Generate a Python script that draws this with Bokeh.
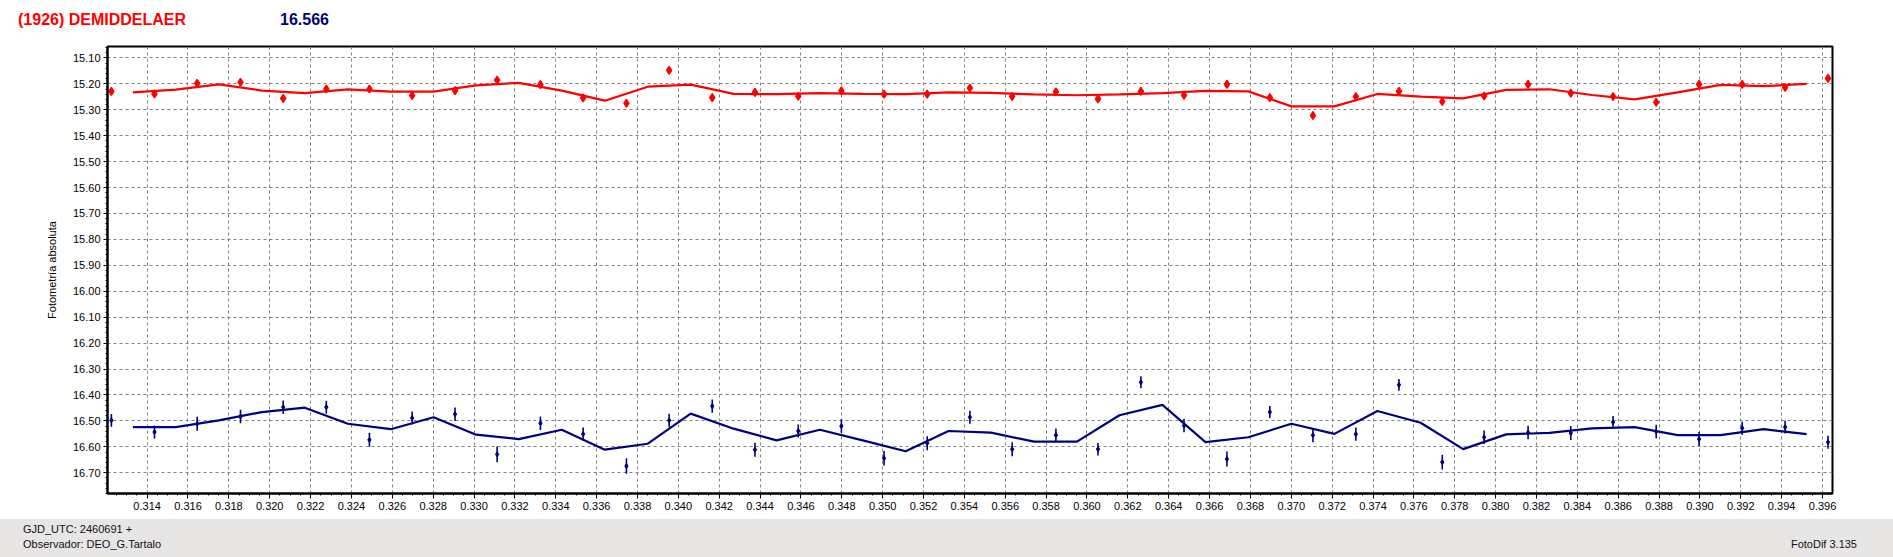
from bokeh.plotting import figure
from bokeh.models import ColumnDataSource, Range1d, FixedTicker, NumeralTickFormatter, Div
from bokeh.layouts import column
from bokeh.embed import file_html
from bokeh.resources import INLINE
import numpy as np

# ---------------- data ----------------
title_name = "(1926) DEMIDDELAER"
title_mag = "16.566"
y_axis_title = "Fotometría absoluta"
footer_gjd = "GJD_UTC: 2460691 +"
footer_obs = "Observador: DEO_G.Tartalo"
footer_soft = "FotoDif 3.135"

times = [0.31225, 0.31436, 0.31645, 0.31857, 0.32066, 0.32277, 0.32488, 0.32697,
         0.32907, 0.33113, 0.33325, 0.33534, 0.33746, 0.33955, 0.34166, 0.34375,
         0.34587, 0.34798, 0.35007, 0.35218, 0.35427, 0.35634, 0.35848, 0.36054,
         0.36264, 0.36475, 0.36685, 0.36895, 0.37106, 0.37316, 0.37527, 0.37739,
         0.37944, 0.38159, 0.38368, 0.38575, 0.38786, 0.38996, 0.39207, 0.39417,
         0.39627]

red_mag = [15.229, 15.239, 15.198, 15.194, 15.256, 15.220, 15.220, 15.245, 15.226,
           15.186, 15.203, 15.254, 15.275, 15.148, 15.253, 15.233, 15.248, 15.227,
           15.240, 15.240, 15.216, 15.249, 15.231, 15.258, 15.229, 15.244, 15.202,
           15.253, 15.322, 15.249, 15.229, 15.268, 15.247, 15.202, 15.236, 15.249,
           15.271, 15.202, 15.202, 15.214, 15.179]
red_err = [0.015, 0.015, 0.014, 0.014, 0.015, 0.015, 0.014, 0.015, 0.014, 0.014,
           0.015, 0.015, 0.015, 0.014, 0.015, 0.015, 0.015, 0.014, 0.015, 0.015,
           0.014, 0.015, 0.014, 0.015, 0.014, 0.015, 0.014, 0.015, 0.015, 0.014,
           0.014, 0.015, 0.015, 0.014, 0.015, 0.015, 0.015, 0.014, 0.014, 0.014,
           0.015]
red_trend = [15.233, 15.222, 15.202, 15.226, 15.236, 15.221, 15.230, 15.230, 15.206,
             15.196, 15.226, 15.265, 15.211, 15.203, 15.239, 15.240, 15.236, 15.239,
             15.240, 15.233, 15.235, 15.241, 15.244, 15.241, 15.236, 15.227, 15.229,
             15.287, 15.287, 15.239, 15.249, 15.256, 15.223, 15.221, 15.243, 15.260,
             15.233, 15.204, 15.209, 15.200]

blue_mag = [16.498, 16.543, 16.511, 16.483, 16.447, 16.447, 16.573, 16.489, 16.474,
            16.629, 16.509, 16.551, 16.674, 16.498, 16.443, 16.611, 16.539, 16.520,
            16.644, 16.586, 16.486, 16.609, 16.555, 16.609, 16.351, 16.518, 16.647,
            16.466, 16.555, 16.551, 16.361, 16.659, 16.563, 16.545, 16.547, 16.505,
            16.541, 16.570, 16.528, 16.524, 16.582]
blue_err = [0.025, 0.025, 0.027, 0.026, 0.026, 0.025, 0.027, 0.025, 0.026, 0.030,
            0.026, 0.026, 0.030, 0.026, 0.026, 0.027, 0.025, 0.026, 0.028, 0.027,
            0.025, 0.027, 0.026, 0.024, 0.023, 0.026, 0.029, 0.023, 0.027, 0.026,
            0.023, 0.028, 0.026, 0.026, 0.027, 0.024, 0.026, 0.027, 0.025, 0.025,
            0.025]
blue_trend = [16.524, 16.524, 16.498, 16.466, 16.449, 16.511, 16.532, 16.486, 16.553,
              16.570, 16.534, 16.611, 16.588, 16.472, 16.530, 16.575, 16.534, 16.575,
              16.617, 16.539, 16.545, 16.580, 16.580, 16.478, 16.438, 16.582, 16.563,
              16.511, 16.550, 16.462, 16.507, 16.609, 16.552, 16.546, 16.529, 16.524,
              16.555, 16.555, 16.532, 16.551]

x_ticks = [0.314, 0.316, 0.318, 0.320, 0.322, 0.324, 0.326, 0.328, 0.330, 0.332,
           0.334, 0.336, 0.338, 0.340, 0.342, 0.344, 0.346, 0.348, 0.350, 0.352,
           0.354, 0.356, 0.358, 0.360, 0.362, 0.364, 0.366, 0.368, 0.370, 0.372,
           0.374, 0.376, 0.378, 0.380, 0.382, 0.384, 0.386, 0.388, 0.390, 0.392,
           0.394, 0.396]
y_ticks = [15.10, 15.20, 15.30, 15.40, 15.50, 15.60, 15.70, 15.80, 15.90, 16.00,
           16.10, 16.20, 16.30, 16.40, 16.50, 16.60, 16.70]

# ---------------- derived ----------------
t = np.array(times)
t_mid = (t[:-1] + t[1:]) / 2.0

red_src = ColumnDataSource(dict(
    x=t, y=np.array(red_mag),
    lo=np.array(red_mag) - np.array(red_err),
    hi=np.array(red_mag) + np.array(red_err)))
blue_src = ColumnDataSource(dict(
    x=t, y=np.array(blue_mag),
    lo=np.array(blue_mag) - np.array(blue_err),
    hi=np.array(blue_mag) + np.array(blue_err)))

RED = "#ff0000"
NAVY = "#000080"
FONT = "Liberation Sans"
W = 1893
BAND = "#e8e6e4"

# ---------------- top strip (titles) ----------------
span = ("position:absolute;white-space:nowrap;font-family:'Liberation Sans',Arial,sans-serif;"
        "margin:0;padding:0;")
top_html = (
    f'<div style="position:relative;width:{W}px;height:44px;background:#ffffff;'
    f'overflow:hidden;margin:0;padding:0;">'
    f'<span style="{span}left:18px;top:11px;font-size:16px;line-height:18px;'
    f'font-weight:bold;color:{RED};">{title_name}</span>'
    f'<span style="{span}left:280px;top:11px;font-size:16px;line-height:18px;'
    f'font-weight:bold;color:{NAVY};">{title_mag}</span>'
    '</div>')
top = Div(text=top_html, width=W, height=44, margin=0)

# ---------------- main plot ----------------
p = figure(width=W, height=475, output_backend="svg", toolbar_location=None,
           x_range=Range1d(0.31206, 0.39649), y_range=Range1d(16.78, 15.056),
           min_border_left=107, min_border_right=61, min_border_top=2,
           min_border_bottom=26)
p.background_fill_color = "white"
p.border_fill_color = "white"
p.outline_line_color = "black"
p.outline_line_width = 2

x_minor = list(np.round(np.arange(0.3120, 0.39651, 0.0005), 4))
y_minor = list(np.round(np.arange(15.06, 16.781, 0.02), 2))
p.xaxis.ticker = FixedTicker(ticks=x_ticks, minor_ticks=x_minor)
p.yaxis.ticker = FixedTicker(ticks=y_ticks, minor_ticks=y_minor)
p.xaxis.formatter = NumeralTickFormatter(format="0.000")
p.yaxis.formatter = NumeralTickFormatter(format="0.00")

for ax in (p.xaxis[0], p.yaxis[0]):
    ax.axis_line_color = "black"
    ax.axis_line_width = 2
    ax.major_tick_line_color = "black"
    ax.minor_tick_line_color = "black"
    ax.major_tick_in = 0
    ax.minor_tick_in = 0
    ax.major_label_text_font = FONT
    ax.major_label_text_font_size = "11px"
    ax.major_label_text_color = "black"

p.xaxis.major_tick_out = 5
p.xaxis.minor_tick_out = 2
p.xaxis.major_label_standoff = 3
p.yaxis.major_tick_out = 4
p.yaxis.minor_tick_out = 2
p.yaxis.major_label_standoff = 3
p.yaxis.axis_label = y_axis_title
p.yaxis.axis_label_text_font = FONT
p.yaxis.axis_label_text_font_size = "11px"
p.yaxis.axis_label_text_font_style = "normal"
p.yaxis.axis_label_text_color = "black"
p.yaxis.axis_label_standoff = 12

p.grid.grid_line_color = "#808080"
p.grid.grid_line_dash = "3 3"
p.grid.grid_line_width = 1

# trend lines
p.line(t_mid, red_trend, line_color=RED, line_width=2.2)
p.line(t_mid, blue_trend, line_color=NAVY, line_width=2.2)

# error bars and points
p.segment(x0="x", y0="lo", x1="x", y1="hi", source=red_src, line_color=RED, line_width=1.6)
p.scatter(x="x", y="y", source=red_src, marker="diamond", size=8,
          fill_color=RED, line_color=RED, line_width=1.2)
p.segment(x0="x", y0="lo", x1="x", y1="hi", source=blue_src, line_color=NAVY, line_width=1.6)
p.scatter(x="x", y="y", source=blue_src, marker="diamond", size=5,
          fill_color=NAVY, line_color=NAVY)

# ---------------- bottom info band ----------------
band_html = (
    f'<div style="position:relative;width:{W}px;height:38px;background:{BAND};'
    f'overflow:hidden;margin:0;padding:0;">'
    f'<span style="{span}left:23px;top:4px;font-size:11px;line-height:13px;'
    f'color:#101020;">{footer_gjd}</span>'
    f'<span style="{span}left:23px;top:19px;font-size:11px;line-height:13px;'
    f'color:#101020;">{footer_obs}</span>'
    f'<span style="{span}right:36px;top:19px;font-size:11px;line-height:13px;'
    f'color:#101020;">{footer_soft}</span>'
    '</div>')
band = Div(text=band_html, width=W, height=38, margin=0)

layout = column(top, p, band, spacing=0)
open("out.html", "w").write(file_html(layout, INLINE))
